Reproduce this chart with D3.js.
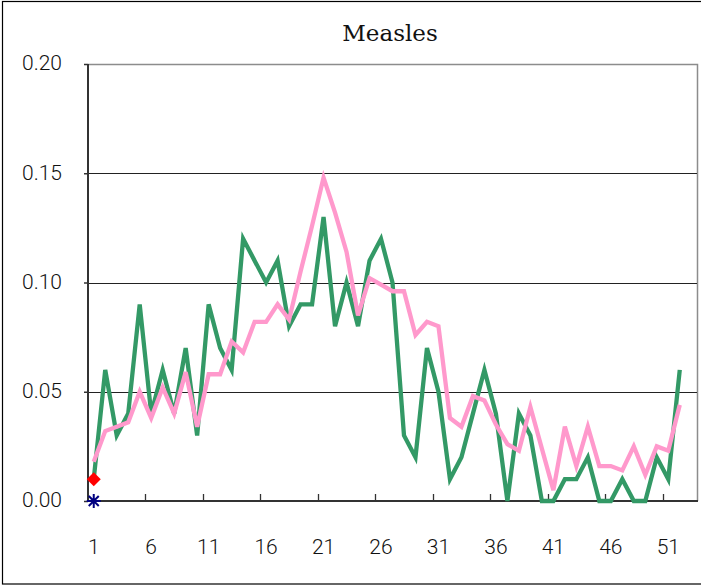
<!DOCTYPE html>
<html>
<head>
<meta charset="utf-8">
<script src="https://cdn.jsdelivr.net/npm/d3@7"></script>
<style>
  body { margin: 0; background: #fff; }
  svg { display: block; }
</style>
</head>
<body>
<script>
// week numbers on the x axis (53 slots, the last one is empty)
var weeks = d3.range(1, 54);
var tickLabels = [1, 6, 11, 16, 21, 26, 31, 36, 41, 46, 51];
var yTicks = [0, 0.05, 0.10, 0.15, 0.20];

// green series
var current = [0.01, 0.06, 0.03, 0.04, 0.09, 0.04, 0.06, 0.04, 0.07, 0.03,
  0.09, 0.07, 0.06, 0.12, 0.11, 0.10, 0.11, 0.08, 0.09, 0.09,
  0.13, 0.08, 0.10, 0.08, 0.11, 0.12, 0.10, 0.03, 0.02, 0.07,
  0.05, 0.01, 0.02, 0.04, 0.06, 0.04, 0.00, 0.04, 0.03, 0.00,
  0.00, 0.01, 0.01, 0.02, 0.00, 0.00, 0.01, 0.00, 0.00, 0.02,
  0.01, 0.06];
// pink series
var average = [0.018, 0.032, 0.034, 0.036, 0.050, 0.038, 0.052, 0.040, 0.059, 0.034,
  0.058, 0.058, 0.073, 0.068, 0.082, 0.082, 0.090, 0.083, 0.105, 0.126,
  0.148, 0.132, 0.114, 0.085, 0.102, 0.099, 0.096, 0.096, 0.076, 0.082,
  0.080, 0.038, 0.034, 0.048, 0.046, 0.035, 0.026, 0.023, 0.043, 0.024,
  0.005, 0.034, 0.016, 0.034, 0.016, 0.016, 0.014, 0.025, 0.012, 0.025,
  0.023, 0.044];
// single-point series
var diamondSeries = [0.01];
var starSeries = [0.00];

var W = 701, H = 585;
var pLeft = 88, pRight = 697, pTop = 64, pBottom = 501;

var svg = d3.select("body").append("svg")
  .attr("width", W).attr("height", H);

// outer frame
svg.append("rect")
  .attr("x", 2.5).attr("y", 1.5)
  .attr("width", 702).attr("height", 582.5)
  .attr("fill", "none").attr("stroke", "#000").attr("stroke-width", 1.2);

var x = d3.scaleBand().domain(weeks).range([pLeft, pRight]).padding(0);
var y = d3.scaleLinear().domain([0, 0.2]).range([pBottom, pTop]);
var cx = function(i){ return x(weeks[i]) + x.bandwidth()/2; };

// plot border (top / right in grey)
svg.append("path")
  .attr("d", "M" + pLeft + "," + (pTop+0.5) + "H" + (pRight+0.5) + "V" + pBottom)
  .attr("fill", "none").attr("stroke", "#8c8c8c").attr("stroke-width", 1.5);

// gridlines
svg.selectAll(".grid")
  .data(yTicks.filter(function(d){ return d > 0 && d < 0.2; }))
  .enter().append("line")
  .attr("class", "grid")
  .attr("x1", pLeft).attr("x2", pRight)
  .attr("y1", function(d){ return Math.round(y(d)) + 0.5; })
  .attr("y2", function(d){ return Math.round(y(d)) + 0.5; })
  .attr("stroke", "#222").attr("stroke-width", 1);

// y axis
var yAxis = d3.axisLeft(y).tickValues(yTicks)
  .tickFormat(d3.format(".2f")).tickSize(4).tickPadding(0);
var gy = svg.append("g").attr("transform", "translate(" + pLeft + ",0)").call(yAxis);
gy.select(".domain").remove();
gy.selectAll(".tick line").attr("stroke", "#333").attr("stroke-width", 1.5);
gy.selectAll(".tick text")
  .attr("x", -26).attr("dy", "0.28em")
  .attr("font-family", "Roboto, 'Noto Sans', sans-serif")
  .attr("font-weight", 300)
  .attr("font-size", 21).attr("fill", "#111");

// x axis: ticks on slot boundaries every 5 weeks, pointing up
var boundaries = tickLabels.slice(1).map(function(d){ return x(d); });
svg.selectAll(".xtick")
  .data(boundaries)
  .enter().append("line")
  .attr("class", "xtick")
  .attr("x1", function(d){ return Math.round(d) + 0.5; })
  .attr("x2", function(d){ return Math.round(d) + 0.5; })
  .attr("y1", pBottom).attr("y2", pBottom - 7)
  .attr("stroke", "#333").attr("stroke-width", 1.3);

svg.selectAll(".xlab")
  .data(tickLabels)
  .enter().append("text")
  .attr("class", "xlab")
  .attr("x", function(d){ return x(d) + x.bandwidth()/2; })
  .attr("y", 554)
  .attr("text-anchor", "middle")
  .attr("font-family", "Roboto, 'Noto Sans', sans-serif")
  .attr("font-weight", 300)
  .attr("font-size", 21).attr("fill", "#111")
  .text(function(d){ return d; });

// axis lines
svg.append("line")
  .attr("x1", pLeft).attr("x2", pLeft).attr("y1", pTop).attr("y2", pBottom + 1)
  .attr("stroke", "#333").attr("stroke-width", 2);
svg.append("line")
  .attr("x1", pLeft).attr("x2", pRight + 1).attr("y1", pBottom).attr("y2", pBottom)
  .attr("stroke", "#333").attr("stroke-width", 2);

// series lines
var line = d3.line()
  .x(function(d, i){ return cx(i); })
  .y(function(d){ return y(d); });

svg.append("path").datum(current)
  .attr("d", line)
  .attr("fill", "none").attr("stroke", "#339966")
  .attr("stroke-width", 4.3).attr("stroke-linejoin", "miter");

svg.append("path").datum(average)
  .attr("d", line)
  .attr("fill", "none").attr("stroke", "#ff99cc")
  .attr("stroke-width", 4.3).attr("stroke-linejoin", "miter");

// markers
svg.selectAll(".diamond")
  .data(diamondSeries)
  .enter().append("path")
  .attr("class", "diamond")
  .attr("transform", function(d, i){ return "translate(" + cx(i) + "," + y(d) + ")"; })
  .attr("d", d3.symbol().type(d3.symbolDiamond2).size(125))
  .attr("fill", "#ff0000");

svg.selectAll(".star")
  .data(starSeries)
  .enter().append("path")
  .attr("class", "star")
  .attr("transform", function(d, i){ return "translate(" + cx(i) + "," + y(d) + ")"; })
  .attr("d", "M-7,0H7M0,-7V7M-5,-5L5,5M-5,5L5,-5")
  .attr("fill", "none").attr("stroke", "#000080").attr("stroke-width", 2);

// title
svg.append("text")
  .attr("x", 390).attr("y", 41)
  .attr("text-anchor", "middle")
  .attr("font-family", "'DejaVu Serif', serif")
  .attr("font-size", 23).attr("fill", "#111")
  .text("Measles");
</script>
</body>
</html>
